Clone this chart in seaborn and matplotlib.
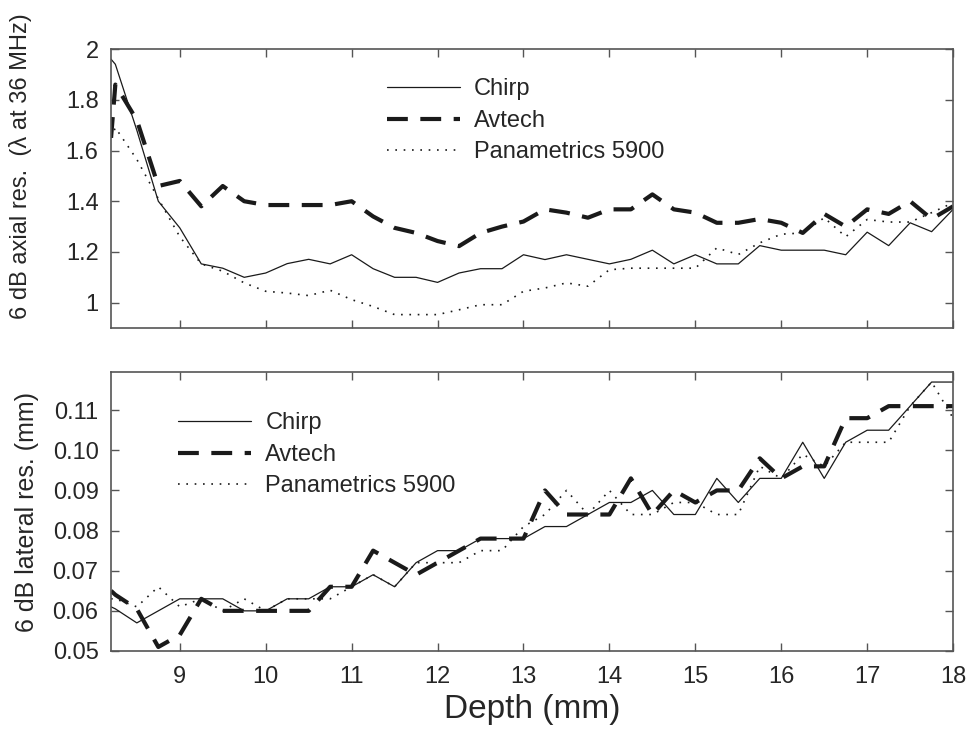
import numpy as np
import pandas as pd
import matplotlib
matplotlib.use("Agg")
import matplotlib.pyplot as plt
import seaborn as sns

# depth samples (mm)
depth = [8.2, 8.25] + list(np.arange(8.5, 18.01, 0.25))

# 6 dB axial resolution (wavelengths at 36 MHz)
axial_chirp = [1.96, 1.94, 1.68, 1.40, 1.295, 1.153, 1.136, 1.10, 1.117, 1.154,
               1.171, 1.153, 1.189, 1.134, 1.10, 1.10, 1.08, 1.117, 1.134, 1.134,
               1.189, 1.17, 1.189, 1.171, 1.153, 1.171, 1.207, 1.153, 1.189, 1.153,
               1.153, 1.225, 1.207, 1.207, 1.207, 1.189, 1.278, 1.225, 1.315, 1.28, 1.368]
axial_avtech = [1.65, 1.86, 1.72, 1.46, 1.48, 1.38, 1.46, 1.40, 1.385, 1.385,
                1.385, 1.385, 1.40, 1.34, 1.295, 1.275, 1.243, 1.223, 1.275, 1.30,
                1.32, 1.368, 1.355, 1.335, 1.368, 1.368, 1.427, 1.368, 1.355, 1.315,
                1.315, 1.33, 1.315, 1.275, 1.35, 1.30, 1.368, 1.35, 1.40, 1.33, 1.38]
axial_pana = [1.65, 1.69, 1.565, 1.41, 1.26, 1.153, 1.124, 1.078, 1.045, 1.038,
              1.028, 1.049, 1.012, 0.985, 0.953, 0.953, 0.953, 0.972, 0.992, 0.992,
              1.045, 1.058, 1.078, 1.065, 1.13, 1.136, 1.136, 1.136, 1.136, 1.216,
              1.19, 1.236, 1.27, 1.275, 1.335, 1.26, 1.328, 1.318, 1.318, 1.355, 1.394]

# 6 dB lateral resolution (mm)
lat_chirp = [0.061, 0.0605, 0.057, 0.060, 0.063, 0.063, 0.063, 0.060, 0.060, 0.063,
             0.063, 0.066, 0.066, 0.069, 0.066, 0.072, 0.075, 0.075, 0.078, 0.078,
             0.078, 0.081, 0.081, 0.084, 0.087, 0.087, 0.090, 0.084, 0.084, 0.093,
             0.087, 0.093, 0.093, 0.102, 0.093, 0.102, 0.105, 0.105, 0.111, 0.117, 0.117]
lat_avtech = [0.065, 0.064, 0.0605, 0.051, 0.054, 0.063, 0.060, 0.060, 0.060, 0.060,
              0.060, 0.066, 0.066, 0.075, 0.072, 0.069, 0.072, 0.075, 0.078, 0.078,
              0.078, 0.090, 0.084, 0.084, 0.084, 0.093, 0.084, 0.090, 0.087, 0.090,
              0.090, 0.098, 0.093, 0.096, 0.096, 0.108, 0.108, 0.111, 0.111, 0.111, 0.111]
lat_pana = [0.063, 0.063, 0.061, 0.066, 0.061, 0.063, 0.060, 0.063, 0.060, 0.063,
            0.063, 0.063, 0.066, 0.069, 0.066, 0.072, 0.072, 0.072, 0.075, 0.075,
            0.081, 0.084, 0.090, 0.084, 0.090, 0.084, 0.084, 0.087, 0.087, 0.084,
            0.084, 0.096, 0.093, 0.099, 0.096, 0.102, 0.102, 0.102, 0.111, 0.117, 0.108]

labels = ["Chirp", "Avtech", "Panametrics 5900"]

sns.set_style("ticks")
plt.rcParams['font.family'] = ['Liberation Sans', 'DejaVu Sans']
plt.rcParams['axes.edgecolor'] = '#555555'

ink = '#1a1a1a'
styles = [dict(lw=0.9, ls='-'),
          dict(lw=3.0, ls=(0, (5, 3))),
          dict(lw=1.2, ls=(0, (1, 4)))]

fig = plt.figure(figsize=(9.69, 7.29), dpi=100)
ax1 = fig.add_axes([0.1146, 0.550, 0.869, 0.3827])
ax2 = fig.add_axes([0.1146, 0.107, 0.869, 0.3827])

for ax, series in [(ax1, [axial_chirp, axial_avtech, axial_pana]),
                   (ax2, [lat_chirp, lat_avtech, lat_pana])]:
    for vals, lab, st in zip(series, labels, styles):
        sns.lineplot(x=depth, y=vals, ax=ax, color=ink, label=lab, **st)
    ax.set_xlim(8.2, 18)
    ax.set_xticks(range(9, 19))
    ax.tick_params(direction='in', length=6, top=True, right=True,
                   labelsize=17, color='#555555', width=1)
    ax.tick_params(axis='x', pad=11)
    ax.tick_params(axis='y', pad=9)
    for sp in ax.spines.values():
        sp.set_linewidth(1.2)

ax1.set_ylim(0.9, 2.0)
ax1.set_yticks([1, 1.2, 1.4, 1.6, 1.8, 2])
ax1.set_yticklabels(["1", "1.2", "1.4", "1.6", "1.8", "2"])
ax1.set_xticklabels([])
ax1.set_ylabel("6 dB axial res.  (λ at 36 MHz)", fontsize=17)
ax1.yaxis.set_label_coords(-0.094, 0.58)

ax2.set_ylim(0.05, 0.1195)
ax2.set_yticks([0.05, 0.06, 0.07, 0.08, 0.09, 0.10, 0.11])
ax2.set_yticklabels(["0.05", "0.06", "0.07", "0.08", "0.09", "0.10", "0.11"])
ax2.set_ylabel("6 dB lateral res. (mm)", fontsize=18)
ax2.yaxis.set_label_coords(-0.085, 0.5)
ax2.set_xlabel("Depth (mm)", fontsize=24, labelpad=4)

leg_kw = dict(loc='upper left', frameon=False, fontsize=17, handlelength=3.1,
              handletextpad=0.6, labelspacing=0.4, borderpad=0, borderaxespad=0)
ax1.legend(bbox_to_anchor=(0.3275, 0.895), **leg_kw)
ax2.legend(bbox_to_anchor=(0.0795, 0.855), **leg_kw)

fig.savefig("out.png", dpi=100)
